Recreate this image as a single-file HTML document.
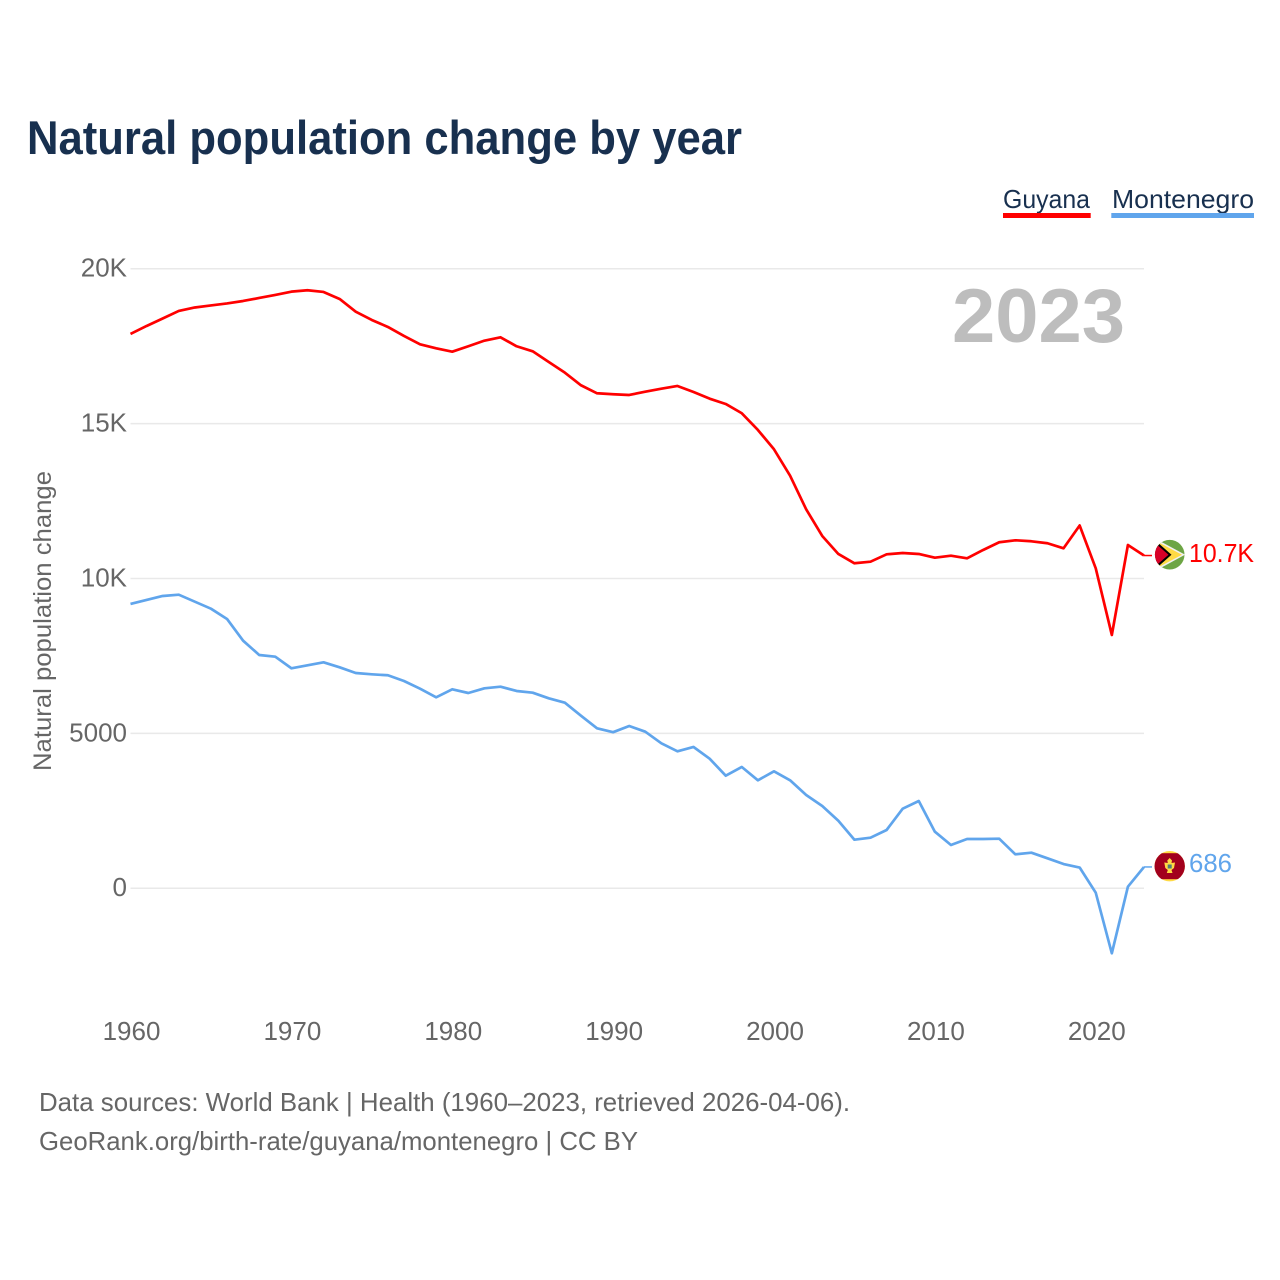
<!DOCTYPE html>
<html lang="en">
<head>
<meta charset="utf-8">
<title>Natural population change by year</title>
<style>
  html, body { margin: 0; padding: 0; background: #ffffff; }
  svg { display: block; font-family: "Liberation Sans", sans-serif; }
</style>
</head>
<body>
<svg id="chart" xmlns="http://www.w3.org/2000/svg" width="1280" height="1280" viewBox="0 0 1280 1280">
  <rect x="0" y="0" width="1280" height="1280" fill="#ffffff"/>
  <text x="27" y="154" font-size="47" font-weight="700" fill="#18304f" textLength="715" lengthAdjust="spacingAndGlyphs">Natural population change by year</text>

  <g>
    <g>
      <text x="1003" y="208" font-size="26" fill="#18304f" textLength="87" lengthAdjust="spacingAndGlyphs">Guyana</text>
      <rect x="1003" y="213" width="87.7" height="5" fill="#ff0000"/>
    </g>
    <g>
      <text x="1112" y="208" font-size="26" fill="#18304f" textLength="142" lengthAdjust="spacingAndGlyphs">Montenegro</text>
      <rect x="1111.3" y="213" width="142.7" height="5" fill="#60a5ec"/>
    </g>
  </g>

  <g id="grid"></g>
  <g id="yticks"></g>
  <g id="xticks"></g>

  <text transform="translate(51,621) rotate(-90)" text-anchor="middle" font-size="25" fill="#666666" textLength="300" lengthAdjust="spacingAndGlyphs">Natural population change</text>
  <text x="952" y="342" font-size="76" font-weight="700" fill="#bdbdbd" textLength="173" lengthAdjust="spacingAndGlyphs">2023</text>

  <g id="series"></g>

  <defs>
    <clipPath id="flag-clip-guyana"><circle cx="1169.7" cy="554.7" r="14.8"/></clipPath>
    <clipPath id="flag-clip-montenegro"><circle cx="1169.7" cy="866.2" r="15.2"/></clipPath>
  </defs>

  <g clip-path="url(#flag-clip-guyana)">
    <rect x="1154" y="539" width="32" height="32" fill="#6da544"/>
    <polygon points="1156,539 1185,554.7 1156,570.5" fill="#f0f0f0"/>
    <polygon points="1157,541.5 1182,554.7 1157,568" fill="#ffda44"/>
    <polygon points="1156,541 1171.5,554.7 1156,568.5" fill="#000000"/>
    <polygon points="1154,542 1168.5,554.7 1154,567.5" fill="#d80027"/>
  </g>
  <g clip-path="url(#flag-clip-montenegro)">
    <rect x="1154" y="850" width="32" height="33" fill="#ffda44"/>
    <rect x="1154" y="853.2" width="32" height="26" fill="#a2001d"/>
    <polygon points="1169.7,858 1172,860.5 1171.5,863 1175,862.5 1174,868 1171.5,870 1172.5,873 1166.8,873 1167.8,870 1165.3,868 1164.3,862.5 1167.8,863 1167.3,860.5" fill="#ffda44"/>
    <rect x="1167.7" y="864.5" width="4" height="4" fill="#4f7d7a"/>
  </g>

  <g>
    <text x="39" y="1111" font-size="26" fill="#666666" textLength="811" lengthAdjust="spacingAndGlyphs">Data sources: World Bank | Health (1960–2023, retrieved 2026-04-06).</text>
    <text x="39" y="1150" font-size="26" fill="#666666" textLength="599" lengthAdjust="spacingAndGlyphs">GeoRank.org/birth-rate/guyana/montenegro | CC BY</text>
  </g>
</svg>

<script>
const years = [1960,1961,1962,1963,1964,1965,1966,1967,1968,1969,1970,1971,1972,1973,1974,1975,1976,1977,1978,1979,1980,1981,1982,1983,1984,1985,1986,1987,1988,1989,1990,1991,1992,1993,1994,1995,1996,1997,1998,1999,2000,2001,2002,2003,2004,2005,2006,2007,2008,2009,2010,2011,2012,2013,2014,2015,2016,2017,2018,2019,2020,2021,2022,2023];
const guyanaValues = [17893,18151,18393,18636,18748,18813,18878,18958,19055,19152,19259,19304,19249,19023,18613,18345,18119,17828,17560,17431,17321,17496,17677,17786,17496,17334,16989,16643,16237,15978,15946,15923,16030,16127,16214,16020,15804,15633,15333,14794,14170,13318,12233,11371,10790,10490,10541,10780,10822,10790,10671,10735,10651,10919,11168,11232,11200,11136,10974,11710,10328,8175,11081,10740];
const montenegroValues = [9176,9305,9434,9476,9250,9024,8692,7991,7529,7474,7100,7197,7293,7132,6948,6906,6874,6690,6441,6163,6422,6302,6454,6506,6367,6312,6131,5989,5569,5163,5037,5237,5053,4678,4420,4559,4181,3632,3913,3484,3774,3484,3009,2654,2179,1566,1630,1879,2567,2815,1824,1395,1588,1588,1598,1094,1146,965,781,668,-145,-2102,48,686];
const yTickValues = [0,5000,10000,15000,20000];
const yTickLabels = ["0","5000","10K","15K","20K"];
const xTickValues = [1960,1970,1980,1990,2000,2010,2020];
const guyanaLabel = "10.7K";
const montenegroLabel = "686";

const SVG_NS = "http://www.w3.org/2000/svg";
const plotLeft = 130.5, plotRight = 1144, yZero = 888.2, yTwenty = 268.7;
function xScale(year) {
  return plotLeft + (year - years[0]) * (plotRight - plotLeft) / (years[years.length - 1] - years[0]);
}
function yScale(value) {
  return yZero + value * (yTwenty - yZero) / 20000;
}
function make(tag, attrs, parent, text) {
  const el = document.createElementNS(SVG_NS, tag);
  for (const key in attrs) el.setAttribute(key, attrs[key]);
  if (text !== undefined) el.textContent = text;
  parent.appendChild(el);
  return el;
}

const gridGroup = document.getElementById("grid");
const yTickGroup = document.getElementById("yticks");
yTickValues.forEach(function (value, i) {
  const line = make("line", { x1: plotLeft, x2: plotRight, y1: yScale(value), y2: yScale(value), stroke: "#e9e9e9", "stroke-width": 1.5 }, gridGroup);
  
  
  const label = make("text", { x: 127, y: yScale(value) + 8, "text-anchor": "end", "font-size": 26, fill: "#666666" }, yTickGroup, yTickLabels[i]);
  
  
});

const xTickGroup = document.getElementById("xticks");
xTickValues.forEach(function (year) {
  const label = make("text", { x: xScale(year) + 1, y: 1040, "text-anchor": "middle", "font-size": 26, fill: "#666666" }, xTickGroup, String(year));
  
  
});

function linePath(values) {
  return values.map(function (v, i) {
    return (i ? "L" : "M") + xScale(years[i]).toFixed(2) + " " + yScale(v).toFixed(2);
  }).join(" ");
}

const seriesGroup = document.getElementById("series");

const guyanaLine = make("path", { d: linePath(guyanaValues), fill: "none", stroke: "#ff0000", "stroke-width": 2.7, "stroke-linejoin": "round" }, seriesGroup);



const montenegroLine = make("path", { d: linePath(montenegroValues), fill: "none", stroke: "#60a5ec", "stroke-width": 2.7, "stroke-linejoin": "round" }, seriesGroup);



const lastIndex = years.length - 1;

const guyanaLeader = make("line", { x1: xScale(years[lastIndex]), x2: 1152, y1: yScale(guyanaValues[lastIndex]), y2: yScale(guyanaValues[lastIndex]), stroke: "#ff0000", "stroke-width": 1.5 }, seriesGroup);



const montenegroLeader = make("line", { x1: xScale(years[lastIndex]), x2: 1152, y1: yScale(montenegroValues[lastIndex]), y2: yScale(montenegroValues[lastIndex]), stroke: "#60a5ec", "stroke-width": 1.5 }, seriesGroup);



const guyanaEnd = make("text", { x: 1189, y: 562, "font-size": 26, fill: "#ff0000", textLength: 65, lengthAdjust: "spacingAndGlyphs" }, seriesGroup, guyanaLabel);



const montenegroEnd = make("text", { x: 1189, y: 872, "font-size": 26, fill: "#60a5ec", textLength: 43, lengthAdjust: "spacingAndGlyphs" }, seriesGroup, montenegroLabel);


</script>
</body>
</html>
